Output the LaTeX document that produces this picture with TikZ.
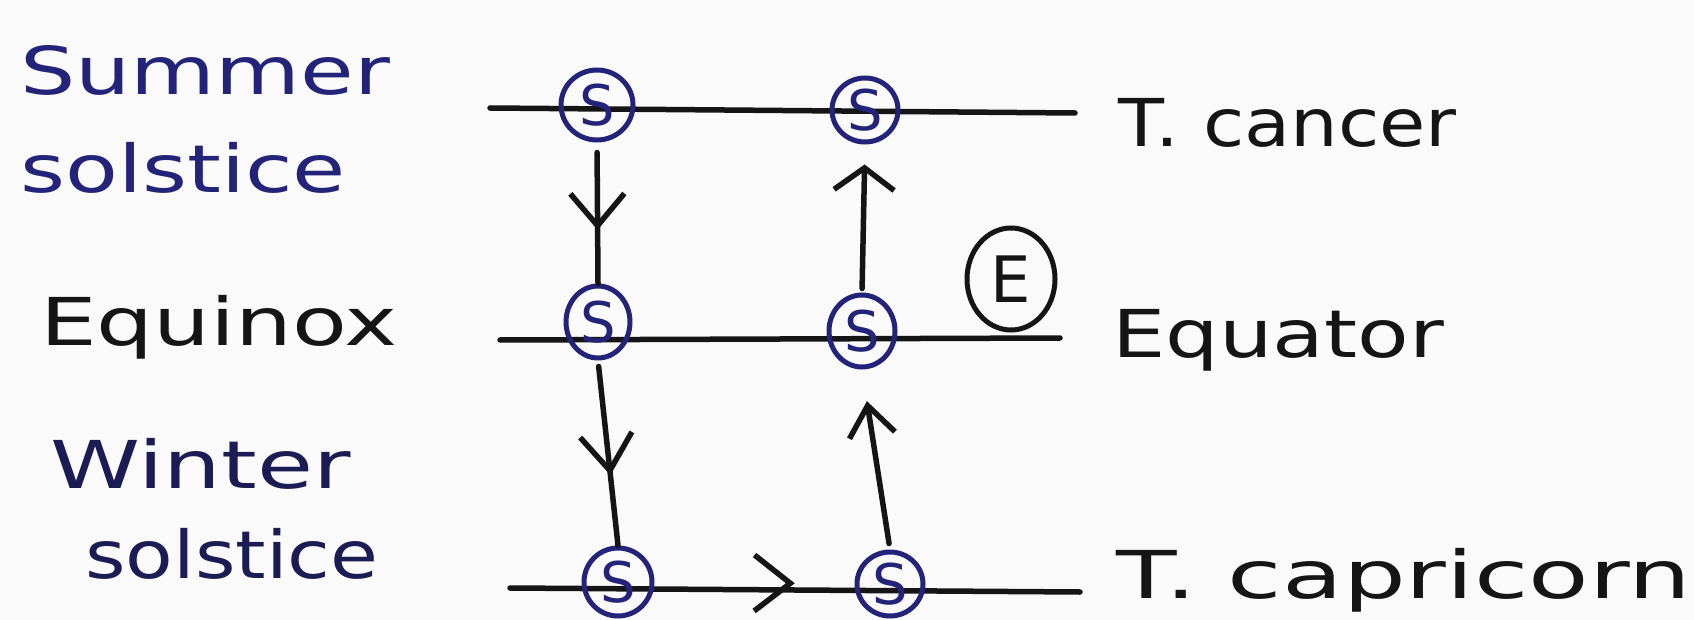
\documentclass[tikz,border=0pt]{standalone}
\usepackage{fontspec}
\usepackage{graphicx}
\setmainfont{DejaVu Sans}
\usetikzlibrary{arrows.meta,decorations.markings,shapes.geometric}
\definecolor{ink}{HTML}{151515}
\definecolor{navy}{HTML}{23237A}
\definecolor{deepnavy}{HTML}{1C1C55}
\definecolor{bg}{HTML}{FAFAFA}
\begin{document}
\begin{tikzpicture}[x=1pt,y=-1pt,
  rule/.style={draw=ink, line width=5.5pt, line cap=round},
  sun/.style={ellipse, draw=navy, line width=5pt, minimum width=68pt, minimum height=68pt,
    inner sep=0pt, text=navy, font=\fontsize{56}{56}\selectfont},
  lab/.style={anchor=base west, inner sep=0pt, text=ink, font=\fontsize{66}{66}\selectfont},
  midbarb/.style 2 args={postaction={decorate}, decoration={markings,
    mark=at position #1 with {\arrow[ink]{Straight Barb[#2,line width=5.5pt]}}}}
]
\fill[bg] (0,0) rectangle (1694,620);
\useasboundingbox (0,0) rectangle (1694,620);

% latitude lines
\coordinate (t0) at (490,108);  \coordinate (t1) at (1075,113);
\coordinate (m0) at (500,340);  \coordinate (m1) at (1060,338);
\coordinate (b0) at (510,588);  \coordinate (b1) at (1080,592);
\draw[rule] (t0) -- (t1);
\draw[rule] (m0) -- (m1);
\draw[rule] (b0) -- (b1);

% sun positions
\node[sun, minimum width=72pt, minimum height=70pt] (s11) at (597,105) {S};
\node[sun, minimum width=66pt, minimum height=64pt] (s12) at (865,110) {S};
\node[sun, minimum width=64pt, minimum height=72pt] (s21) at (598,322) {S};
\node[sun, minimum width=66pt, minimum height=72pt] (s22) at (862,331) {S};
\node[sun, minimum width=68pt, minimum height=68pt] (s31) at (618,582) {S};
\node[sun, minimum width=66pt, minimum height=64pt] (s32) at (890,584) {S};
\node[sun, draw=ink, text=ink, minimum width=88pt, minimum height=102pt,
      font=\fontsize{64}{64}\selectfont] (e) at (1011,279) {E};

% movement arrows
\draw[rule, midbarb={0.62}{length=32pt,width=54pt}, shorten <=10pt] (s11.south) -- (s21.north);
\draw[rule, midbarb={0.62}{length=36pt,width=52pt}, shorten <=6pt] (s21.south) -- (s31.north);
\draw[rule, -{Straight Barb[length=22pt,width=60pt,line width=5.5pt]}, shorten >=20pt, shorten <=4pt] (s22.north) -- (s12.south);
\draw[rule, -{Straight Barb[length=30pt,width=46pt,line width=5.5pt]}, shorten >=32pt, shorten <=6pt] (s32.north) -- (s22.south);
\path[midbarb={0.65}{length=36pt,width=56pt}] (s31.center) -- (s32.center);

% labels
\node[lab, text=navy] (summer) at (20,95) {\scalebox{1.32}[1]{Summer}};
\node[lab, text=navy] (sol1) at (20,193) {\scalebox{1.31}[1]{solstice}};
\node[lab] (equinox) at (40,345) {\scalebox{1.36}[1]{Equinox}};
\node[lab, text=deepnavy] (winter) at (50,488) {\scalebox{1.38}[1]{Winter}};
\node[lab, text=deepnavy] (sol2) at (85,578) {\scalebox{1.18}[1]{solstice}};
\node[lab] (cancer) at (1118,147) {\scalebox{1.14}[1]{T. cancer}};
\node[lab] (equator) at (1112,357) {\scalebox{1.28}[1]{Equator}};
\node[lab] (capri) at (1116,598) {\scalebox{1.5}[1]{T. capricorn}};
\end{tikzpicture}
\end{document}
